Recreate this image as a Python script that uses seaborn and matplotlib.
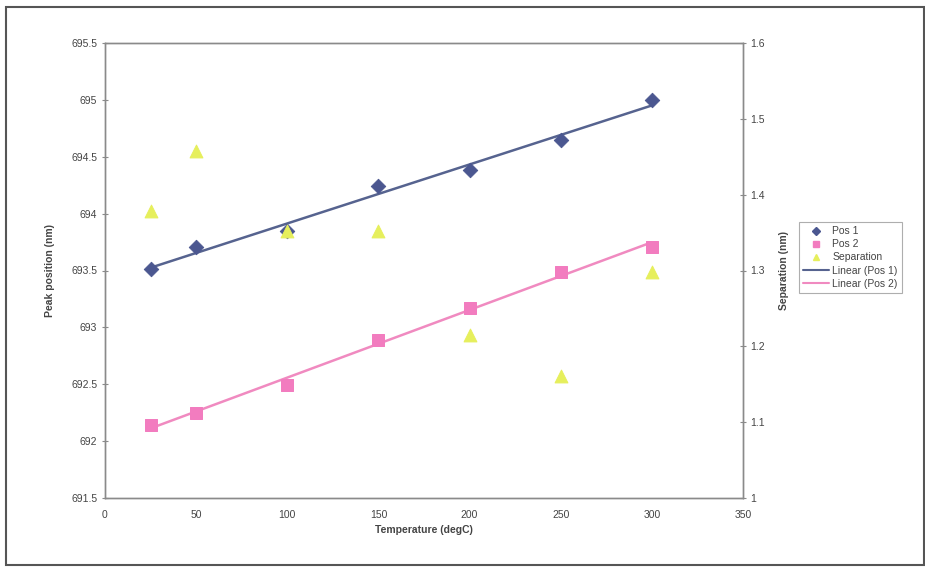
import matplotlib
matplotlib.use("Agg")
import matplotlib.pyplot as plt
import seaborn as sns
import pandas as pd
from matplotlib.patches import Rectangle
from matplotlib.lines import Line2D

temperature = [25, 50, 100, 150, 200, 250, 300]
pos1 = [693.51, 693.71, 693.85, 694.24, 694.38, 694.65, 695.00]
pos2 = [692.14, 692.25, 692.49, 692.89, 693.17, 693.49, 693.71]
separation = [1.378, 1.458, 1.352, 1.352, 1.215, 1.161, 1.298]

x_ticks = [0, 50, 100, 150, 200, 250, 300, 350]
left_ticks = [691.5, 692, 692.5, 693, 693.5, 694, 694.5, 695, 695.5]
right_ticks = [1, 1.1, 1.2, 1.3, 1.4, 1.5, 1.6]

df = pd.DataFrame({"T": temperature, "pos1": pos1, "pos2": pos2, "sep": separation})

sns.set_theme(style="white")
plt.rcParams["font.family"] = ["Liberation Sans", "DejaVu Sans"]

c1 = "#4b5790"
c2 = "#f27cbf"
c3 = "#e6ef5c"
line1 = "#56638f"
line2 = "#f08ac0"
gray = "#8a8a8a"
txt = "#444444"

fig = plt.figure(figsize=(9.25, 5.68), dpi=100)
fig.patch.set_facecolor("white")
ax = fig.add_axes([105/925, 1-498/568, (743-105)/925, (498-43)/568])
ax2 = ax.twinx()

sns.regplot(data=df, x="T", y="pos1", scatter=False, ci=None, truncate=True,
            ax=ax, line_kws=dict(color=line1, lw=1.8))
sns.regplot(data=df, x="T", y="pos2", scatter=False, ci=None, truncate=True,
            ax=ax, line_kws=dict(color=line2, lw=1.8))
sns.scatterplot(data=df, x="T", y="pos1", marker="D", s=55, color=c1,
                edgecolor=c1, ax=ax, zorder=3)
sns.scatterplot(data=df, x="T", y="pos2", marker="s", s=80, color=c2,
                edgecolor=c2, ax=ax, zorder=3)
sns.scatterplot(data=df, x="T", y="sep", marker="^", s=85, color=c3,
                edgecolor=c3, ax=ax2, zorder=3)

ax.set_xlim(0, 350)
ax.set_ylim(691.5, 695.5)
ax2.set_ylim(1, 1.6)
ax.set_xticks(x_ticks)
ax.set_yticks(left_ticks)
ax2.set_yticks(right_ticks)
ax.set_xticklabels([str(v) for v in x_ticks])
ax.set_yticklabels([f"{v:g}" for v in left_ticks])
ax2.set_yticklabels([f"{v:g}" for v in right_ticks])

for a in (ax, ax2):
    for s in a.spines.values():
        s.set_visible(True)
        s.set_color(gray)
        s.set_linewidth(1.0)
    a.tick_params(axis="both", which="both", length=3, width=0.8, color=gray,
                  labelsize=7.5, labelcolor=txt, pad=3)
ax.tick_params(axis="x", direction="inout", length=5, pad=6)
ax.tick_params(axis="y", direction="inout", length=5)
ax2.tick_params(axis="y", direction="inout", length=5)

ax.set_xlabel("Temperature (degC)", fontsize=7.5, fontweight="bold", color=txt, labelpad=4)
ax.set_ylabel("Peak position (nm)", fontsize=7.5, fontweight="bold", color=txt, labelpad=12)
ax2.set_ylabel("Separation (nm)", fontsize=7.5, fontweight="bold", color=txt, labelpad=10)
ax.grid(False)
ax2.grid(False)

handles = [
    Line2D([], [], marker="D", ls="none", color=c1, markersize=4.5),
    Line2D([], [], marker="s", ls="none", color=c2, markersize=5),
    Line2D([], [], marker="^", ls="none", color=c3, markersize=5),
    Line2D([], [], color=line1, lw=1.5),
    Line2D([], [], color=line2, lw=1.5),
]
labels = ["Pos 1", "Pos 2", "Separation", "Linear (Pos 1)", "Linear (Pos 2)"]
leg = fig.legend(handles, labels, loc="upper left", bbox_to_anchor=(799/925, 1-222/568),
                 fontsize=7.5, frameon=True, fancybox=False, borderpad=0.4,
                 handlelength=2.5, handletextpad=0.3, labelspacing=0.3,
                 borderaxespad=0)
leg.get_frame().set_edgecolor("#9a9a9a")
leg.get_frame().set_linewidth(0.8)
for t in leg.get_texts():
    t.set_color(txt)

fig.patches.append(Rectangle((6/925, 3/568), 918/925, (561-3)/568, transform=fig.transFigure,
                             fill=False, edgecolor="#555555", lw=1.5))

fig.savefig("out.png", dpi=100)
